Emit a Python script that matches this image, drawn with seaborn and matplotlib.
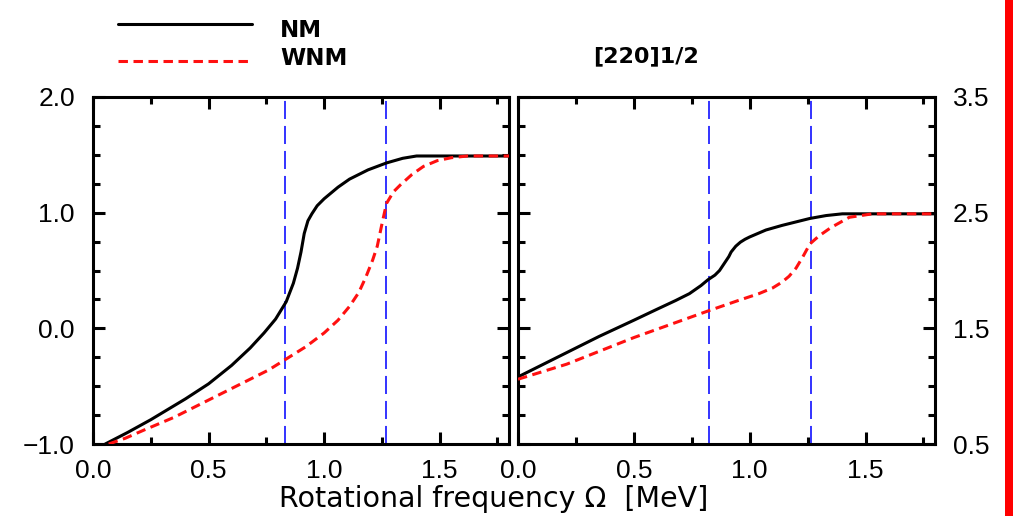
import numpy as np
import pandas as pd
import matplotlib
matplotlib.use("Agg")
import matplotlib.pyplot as plt
from matplotlib.lines import Line2D
from matplotlib.patches import Rectangle
from matplotlib.ticker import MultipleLocator
import seaborn as sns

# ---- data -------------------------------------------------------------
# left panel: NM and WNM curves
left_nm_x = [0.053, 0.15, 0.25, 0.40, 0.50, 0.60, 0.68, 0.74, 0.79, 0.836, 0.867,
             0.885, 0.90, 0.914, 0.93, 0.947, 0.97, 1.00, 1.06, 1.11, 1.19, 1.27,
             1.34, 1.40, 1.80]
left_nm_y = [-1.00, -0.90, -0.79, -0.61, -0.48, -0.32, -0.17, -0.04, 0.08, 0.23, 0.39,
             0.52, 0.66, 0.82, 0.93, 0.99, 1.06, 1.12, 1.22, 1.29, 1.37, 1.43,
             1.47, 1.49, 1.49]
left_wnm_x = [0.068, 0.14, 0.22, 0.35, 0.46, 0.57, 0.67, 0.76, 0.84, 0.92, 1.00, 1.06,
              1.11, 1.15, 1.18, 1.21, 1.23, 1.25, 1.27, 1.30, 1.33, 1.38, 1.43, 1.49,
              1.55, 1.62, 1.80]
left_wnm_y = [-1.00, -0.95, -0.88, -0.77, -0.66, -0.55, -0.45, -0.36, -0.26, -0.16, -0.04,
              0.07, 0.19, 0.31, 0.44, 0.59, 0.71, 0.90, 1.08, 1.18, 1.24, 1.33, 1.40,
              1.45, 1.475, 1.49, 1.49]

# right panel: NM and WNM curves
right_nm_x = [0.00, 0.10, 0.21, 0.35, 0.50, 0.60, 0.68, 0.74, 0.79, 0.82, 0.85, 0.87,
              0.89, 0.91, 0.92, 0.94, 0.96, 0.98, 1.00, 1.07, 1.14, 1.26, 1.33, 1.40,
              1.80]
right_nm_y = [1.08, 1.18, 1.29, 1.43, 1.57, 1.665, 1.74, 1.80, 1.87, 1.92, 1.96, 2.00,
              2.06, 2.12, 2.16, 2.21, 2.245, 2.27, 2.29, 2.35, 2.39, 2.45, 2.475, 2.49,
              2.49]
right_wnm_x = [0.00, 0.21, 0.50, 0.82, 0.95, 1.04, 1.10, 1.14, 1.17, 1.20, 1.23, 1.26,
               1.30, 1.35, 1.43, 1.53, 1.80]
right_wnm_y = [1.06, 1.19, 1.42, 1.65, 1.74, 1.80, 1.85, 1.90, 1.95, 2.02, 2.12, 2.23,
               2.30, 2.37, 2.46, 2.49, 2.49]

# crossing frequencies marked by vertical lines
left_crossings = [0.832, 1.266]
right_crossings = [0.823, 1.266]

series_labels = ["NM", "WNM"]
panel_title = "[220]1/2"
x_label = "Rotational frequency \u03a9  [MeV]"
left_yticks = [-1.0, 0.0, 1.0, 2.0]
right_yticks = [0.5, 1.5, 2.5, 3.5]
xticks = [0.0, 0.5, 1.0, 1.5]

# ---- style ------------------------------------------------------------
sns.set_style("ticks")
plt.rcParams["font.family"] = ["Liberation Sans", "DejaVu Sans"]
plt.rcParams["lines.scale_dashes"] = False
plt.rcParams["axes.linewidth"] = 2.2
plt.rcParams["text.color"] = "black"
plt.rcParams["xtick.color"] = "black"
plt.rcParams["ytick.color"] = "black"

WIDE_FONT = ["DejaVu Sans"]

NM_STYLE = dict(color="black", linewidth=2.2, linestyle="-")
WNM_STYLE = dict(color="#ff1010", linewidth=2.2, linestyle=(0, (6.8, 4.0)))
CROSS_STYLE = dict(color="#1010ff", linewidth=1.2, linestyle=(0, (13.0, 5.0)))

W, H, DPI = 1013, 516, 100
fig = plt.figure(figsize=(W / DPI, H / DPI), dpi=DPI)
fig.patch.set_facecolor("white")

ax_l = fig.add_axes([93 / W, 72 / H, 416 / W, 347 / H])
ax_r = fig.add_axes([518 / W, 72 / H, 417 / W, 347 / H])


def fmt(v):
    # typographic minus for negative tick values
    return f"{v:.1f}".replace("-", "\u2212")


def frame(ax, ylim, yticks, label_right):
    ax.set_xlim(0.0, 1.8)
    ax.set_ylim(*ylim)
    ax.set_xticks(xticks)
    ax.xaxis.set_minor_locator(MultipleLocator(0.25))
    ax.set_yticks(yticks)
    ax.yaxis.set_minor_locator(MultipleLocator(0.25))
    ax.set_xticklabels([fmt(t) for t in xticks])
    ax.set_yticklabels([fmt(t) for t in yticks])
    ax.tick_params(which="both", direction="in", top=True, bottom=True,
                   left=True, right=True, width=2.2, color="black")
    ax.tick_params(which="major", length=8.5, labelsize=19, labelcolor="black")
    ax.tick_params(which="minor", length=5.0)
    ax.tick_params(axis="x", which="major", pad=11)
    ax.tick_params(axis="y", which="major", pad=13,
                   labelleft=not label_right, labelright=label_right)
    for sp in ax.spines.values():
        sp.set_visible(True)
        sp.set_linewidth(2.2)
        sp.set_color("black")
    ax.set_xlabel("")
    ax.set_ylabel("")


def draw_panel(ax, nm_x, nm_y, wnm_x, wnm_y, crossings):
    for xc in crossings:
        ax.axvline(xc, zorder=1, **CROSS_STYLE)
    nm = pd.DataFrame({"omega": nm_x, "value": nm_y})
    wnm = pd.DataFrame({"omega": wnm_x, "value": wnm_y})
    sns.lineplot(data=nm, x="omega", y="value", ax=ax, zorder=3, **NM_STYLE)
    sns.lineplot(data=wnm, x="omega", y="value", ax=ax, zorder=4, **WNM_STYLE)


draw_panel(ax_l, left_nm_x, left_nm_y, left_wnm_x, left_wnm_y, left_crossings)
draw_panel(ax_r, right_nm_x, right_nm_y, right_wnm_x, right_wnm_y, right_crossings)
frame(ax_l, (-1.0, 2.0), left_yticks, label_right=False)
frame(ax_r, (0.5, 3.5), right_yticks, label_right=True)

# shared axis label
fig.text(494 / W, 9 / H, x_label, ha="center", va="baseline", fontsize=20.5,
         family=WIDE_FONT, color="black")

# panel title
fig.text(593 / W, (H - 62) / H, panel_title, ha="left", va="baseline",
         fontsize=16, fontweight="bold", family=WIDE_FONT, color="black")

# legend keys
for i, (lab, style) in enumerate(zip(series_labels, [NM_STYLE, WNM_STYLE])):
    y_line = (H - (23.5 + 37.5 * i)) / H
    fig.add_artist(Line2D([118 / W, 252 / W], [y_line, y_line],
                          transform=fig.transFigure, **style))
    fig.text(280 / W, (H - (37 + 28 * i)) / H, lab, ha="left", va="baseline",
             fontsize=16.5, fontweight="bold", family=WIDE_FONT, color="black")

# red bar along the right edge
fig.add_artist(Rectangle((1005 / W, 0), 8 / W, 1, transform=fig.transFigure,
                         facecolor="#ff0000", edgecolor="none"))

fig.savefig("out.png", dpi=DPI, facecolor="white")
